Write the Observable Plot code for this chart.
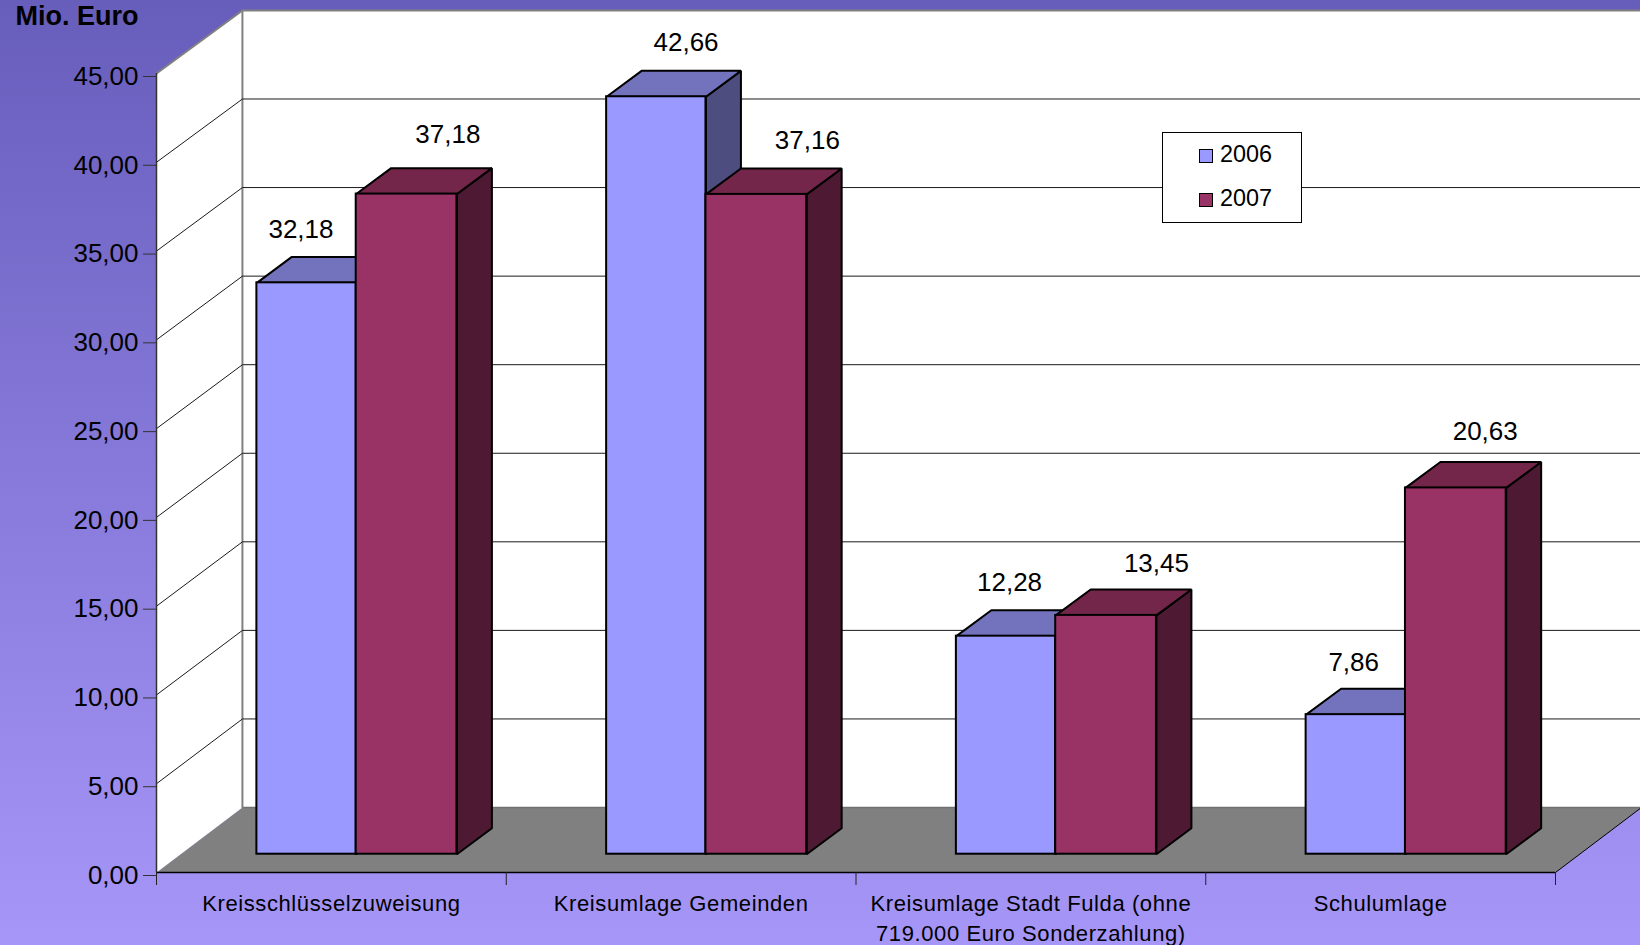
<!DOCTYPE html>
<html lang="de">
<head>
<meta charset="utf-8">
<title>Mio. Euro</title>
<script src="https://cdn.jsdelivr.net/npm/d3@7"></script>
<script src="https://cdn.jsdelivr.net/npm/@observablehq/plot@0.6"></script>
<style>
  html, body { margin: 0; padding: 0; overflow: hidden; background: #a090f0; }
  #chart { position: relative; width: 1640px; height: 945px; font-family: "Liberation Sans", Arial, sans-serif; }
  #legend { position: absolute; left: 1162px; top: 132px; width: 138px; height: 89px; background: #fff; border: 1px solid #000; }
  #legend .sw { position: absolute; left: 36px; width: 12px; height: 12px; border: 1.5px solid #000; }
  #legend .tx { position: absolute; left: 57px; font-size: 23.4px; line-height: 26px; color: #000; }
</style>
</head>
<body>
<div id="chart"></div>
<script>
// ---- data ----
const categories = [
  "Kreisschlüsselzuweisung",
  "Kreisumlage Gemeinden",
  "Kreisumlage Stadt Fulda (ohne\n719.000 Euro Sonderzahlung)",
  "Schulumlage"
];
const values2006 = [32.18, 42.66, 12.28, 7.86];
const values2007 = [37.18, 37.16, 13.45, 20.63];
const seriesNames = ["2006", "2007"];
const yTicks = [0, 5, 10, 15, 20, 25, 30, 35, 40, 45];
const yAxisTitle = "Mio. Euro";

// value-label placement, band units from the band start and value units above the bar top
const labelBand2006 = [0.413, 0.514, 0.439, 0.423];
const labelBand2007 = [0.833, 0.861, 0.859, 0.799];
const labelLift2006 = [2.99, 3.04, 3.04, 2.93];
const labelLift2007 = [3.32, 3.04, 2.93, 3.15];

// ---- oblique 3D geometry in data units ----
const wallDepthX = 0.2457;
const wallDepthY = v => 3.66 - 0.0024 * v;
const barDepthX = 0.1;
const barDepthY = 1.46;
const barFloorLift = 1.03;
const barEdges = {left: 0.287, mid: 0.571, right: 0.859};
const yMax = yTicks[yTicks.length - 1];
const xMax = categories.length;

const colors = {
  "2006": {front: "#9999ff", top: "#7373bd", side: "#4d4d80"},
  "2007": {front: "#993366", top: "#732649", side: "#4d1933"}
};

const fmt = v => v.toFixed(2).replace(".", ",");
const back = (c, v) => ({x: c + wallDepthX, y: v + wallDepthY(v)});
const front = (c, v) => ({x: c, y: v});

function polygon(list, id, fill, pts) {
  [...pts, pts[0]].forEach(p => list.push({id, fill, x: p.x, y: p.y}));
}

const walls = [];
polygon(walls, "floor", "#808080", [front(0, 0), back(0, 0), back(xMax, 0), front(xMax, 0)]);
polygon(walls, "side", "#ffffff", [front(0, 0), front(0, yMax), back(0, yMax), back(0, 0)]);
polygon(walls, "back", "#ffffff", [back(0, 0), back(0, yMax), back(xMax, yMax), back(xMax, 0)]);

const wallEdges = [];
[[front(0, yMax), back(0, yMax), back(xMax, yMax)], [back(0, yMax), back(0, 0)]].forEach((e, i) =>
  e.forEach(p => wallEdges.push({id: i, ...p})));
const floorBackEdge = [back(0, 0), back(xMax, 0)];
const floorRightEdge = [front(xMax, 0), back(xMax, 0)];

const gridLines = [];
yTicks.filter(v => v > 0 && v < yMax).forEach(v =>
  [front(0, v), back(0, v), back(xMax, v)].forEach(p => gridLines.push({v, ...p})));

function barRows(values, name, c0) {
  return values.map((value, i) => ({
    category: i,
    value,
    name,
    x1: i + c0[0],
    x2: i + c0[1],
    y1: barFloorLift,
    y2: value + barFloorLift
  }));
}
const bars2006 = barRows(values2006, seriesNames[0], [barEdges.left, barEdges.mid]);
const bars2007 = barRows(values2007, seriesNames[1], [barEdges.mid, barEdges.right]);

function barFaces(rows) {
  const out = [];
  rows.forEach((b, i) => {
    const c = colors[b.name];
    polygon(out, `${b.name}-side-${i}`, c.side, [
      {x: b.x2, y: b.y2}, {x: b.x2, y: b.y1},
      {x: b.x2 + barDepthX, y: b.y1 + barDepthY}, {x: b.x2 + barDepthX, y: b.y2 + barDepthY}
    ]);
    polygon(out, `${b.name}-top-${i}`, c.top, [
      {x: b.x1, y: b.y2}, {x: b.x2, y: b.y2},
      {x: b.x2 + barDepthX, y: b.y2 + barDepthY}, {x: b.x1 + barDepthX, y: b.y2 + barDepthY}
    ]);
  });
  return out;
}

const valueLabels = [
  ...values2006.map((v, i) => ({text: fmt(v), x: i + labelBand2006[i], y: v + barFloorLift + labelLift2006[i]})),
  ...values2007.map((v, i) => ({text: fmt(v), x: i + labelBand2007[i], y: v + barFloorLift + labelLift2007[i]}))
];

const faceOptions = {x: "x", y: "y", z: "id", fill: "fill", stroke: "#000", strokeWidth: 2, strokeLinejoin: "miter"};
const rectOptions = name => ({x1: "x1", x2: "x2", y1: "y1", y2: "y2", fill: colors[name].front, stroke: "#000", strokeWidth: 2});

const chart = Plot.plot({
  width: 1640,
  height: 945,
  marginLeft: 156,
  marginRight: 85,
  marginTop: 73,
  marginBottom: 73,
  x: {domain: [0, xMax]},
  y: {domain: [0, yMax]},
  style: {
    background: "linear-gradient(180deg, #675dbb 0%, #a696f8 100%)",
    fontFamily: "'Liberation Sans', Arial, sans-serif",
    color: "#000",
    overflow: "visible"
  },
  marks: [
    Plot.line(walls, {x: "x", y: "y", z: "id", fill: "fill", stroke: "none"}),
    Plot.line(floorBackEdge, {x: "x", y: "y", stroke: "#707070", strokeWidth: 1.5}),
    Plot.line(wallEdges, {x: "x", y: "y", z: "id", stroke: "#808080", strokeWidth: 2, strokeLinejoin: "miter"}),
    Plot.line(gridLines, {x: "x", y: "y", z: "v", stroke: "#1a1a1a", strokeWidth: 1, strokeLinejoin: "miter"}),
    Plot.line(floorRightEdge, {x: "x", y: "y", stroke: "#000", strokeWidth: 1}),

    Plot.line(barFaces(bars2006), faceOptions),
    Plot.rect(bars2006, rectOptions(seriesNames[0])),
    Plot.line(barFaces(bars2007), faceOptions),
    Plot.rect(bars2007, rectOptions(seriesNames[1])),

    Plot.ruleX([0], {stroke: "#333", strokeWidth: 1.5}),
    Plot.ruleY([0], {stroke: "#000", strokeWidth: 1.5}),
    Plot.axisY({
      ticks: yTicks,
      tickFormat: fmt,
      tickSize: 13,
      tickPadding: 5,
      stroke: "#333",
      fill: "#000",
      fontSize: 26,
      label: null,
      dy: 3
    }),
    Plot.axisX({
      ticks: d3.range(0, xMax + 1),
      tickSize: 13,
      stroke: "#222",
      tickFormat: () => "",
      label: null
    }),
    Plot.text(categories, {
      x: (d, i) => i + 0.5,
      y: -0.95,
      text: d => d,
      lineAnchor: "top",
      lineHeight: 1.36,
      fontSize: 22,
      fill: "#000",
      style: {letterSpacing: "0.6px"}
    }),
    Plot.text(valueLabels, {x: "x", y: "y", text: "text", fontSize: 26, fill: "#000"}),
    Plot.text([yAxisTitle], {
      x: -0.403,
      y: 48.2,
      text: d => d,
      textAnchor: "start",
      fontSize: 27,
      fontWeight: "bold",
      fill: "#000"
    })
  ]
});

const host = document.getElementById("chart");
host.appendChild(chart);
chart.querySelectorAll("text").forEach(t => { if (t.textContent.includes("Kreis") || t.textContent === "Schulumlage") t.style.letterSpacing = "0.6px"; });

const legend = document.createElement("div");
legend.id = "legend";
seriesNames.forEach((name, i) => {
  const top = 16 + i * 44;
  const sw = document.createElement("div");
  sw.className = "sw";
  sw.style.top = top + "px";
  sw.style.background = colors[name].front;
  const tx = document.createElement("div");
  tx.className = "tx";
  tx.style.top = (top - 8) + "px";
  tx.textContent = name;
  legend.append(sw, tx);
});
host.appendChild(legend);
</script>
</body>
</html>
